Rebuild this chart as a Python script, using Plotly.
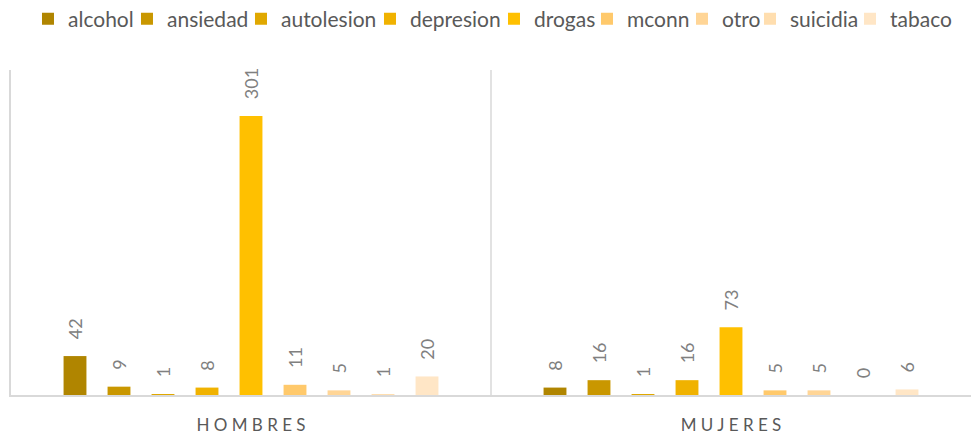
import plotly.graph_objects as go

categories = ["HOMBRES", "MUJERES"]
tick_labels = ["H O M B R E S", "M U J E R E S"]
series_names = ["alcohol", "ansiedad", "autolesion", "depresion", "drogas",
                "mconn", "otro", "suicidia", "tabaco"]
alcohol = [42, 8]
ansiedad = [9, 16]
autolesion = [1, 1]
depresion = [8, 16]
drogas = [301, 73]
mconn = [11, 5]
otro = [5, 5]
suicidia = [1, 0]
tabaco = [20, 6]
series_values = [alcohol, ansiedad, autolesion, depresion, drogas,
                 mconn, otro, suicidia, tabaco]

colors = ["#B08500", "#C99700", "#E0A800", "#F0B200", "#FFC000",
          "#FFC96B", "#FFD596", "#FFDEAF", "#FFE6C6"]
legend_widths = [54, 69, 84, 79, 48, 50, 23, 55, 64]

FONT = "Lato, 'Open Sans', sans-serif"

fig = go.Figure()
for name, vals, col, lw in zip(series_names, series_values, colors, legend_widths):
    fig.add_trace(go.Bar(
        name=name, x=categories, y=vals,
        marker=dict(color=col, line=dict(width=0)),
        texttemplate="\u00a0\u00a0\u00a0%{y}",
        textposition="outside", textangle=-90,
        textfont=dict(family=FONT, size=18, color="#808080"),
        cliponaxis=False, constraintext="none",
        legendwidth=lw,
        hoverinfo="skip",
    ))

fig.add_shape(type="line", xref="x", yref="paper", x0=0.5, x1=0.5, y0=0, y1=1,
              line=dict(color="#D9D9D9", width=1.5), layer="below")

fig.update_layout(
    width=971, height=434,
    margin=dict(l=11, r=0, t=70, b=39, autoexpand=False),
    paper_bgcolor="white", plot_bgcolor="white",
    barmode="group", bargap=0.175, bargroupgap=0.48,
    showlegend=True,
    legend=dict(orientation="h", x=0.0177, xanchor="left",
                yref="container", y=1 - 19 / 434, yanchor="middle",
                font=dict(family=FONT, size=21, color="#595959"),
                itemwidth=30, traceorder="normal", itemclick=False),
    xaxis=dict(type="category", tickvals=categories, ticktext=tick_labels,
               showline=True, linecolor="#D9D9D9", linewidth=1.5,
               showgrid=False, ticks="", zeroline=False, ticklabelstandoff=14,
               tickfont=dict(family=FONT, size=17, color="#595959")),
    yaxis=dict(range=[0, 350.6], showline=True, linecolor="#D9D9D9", linewidth=1.5,
               showgrid=False, showticklabels=False, ticks="", zeroline=False),
)

fig.write_html("out.html",
               config={"displayModeBar": False},
               post_script="document.body.style.margin='0';document.body.style.padding='0';")
